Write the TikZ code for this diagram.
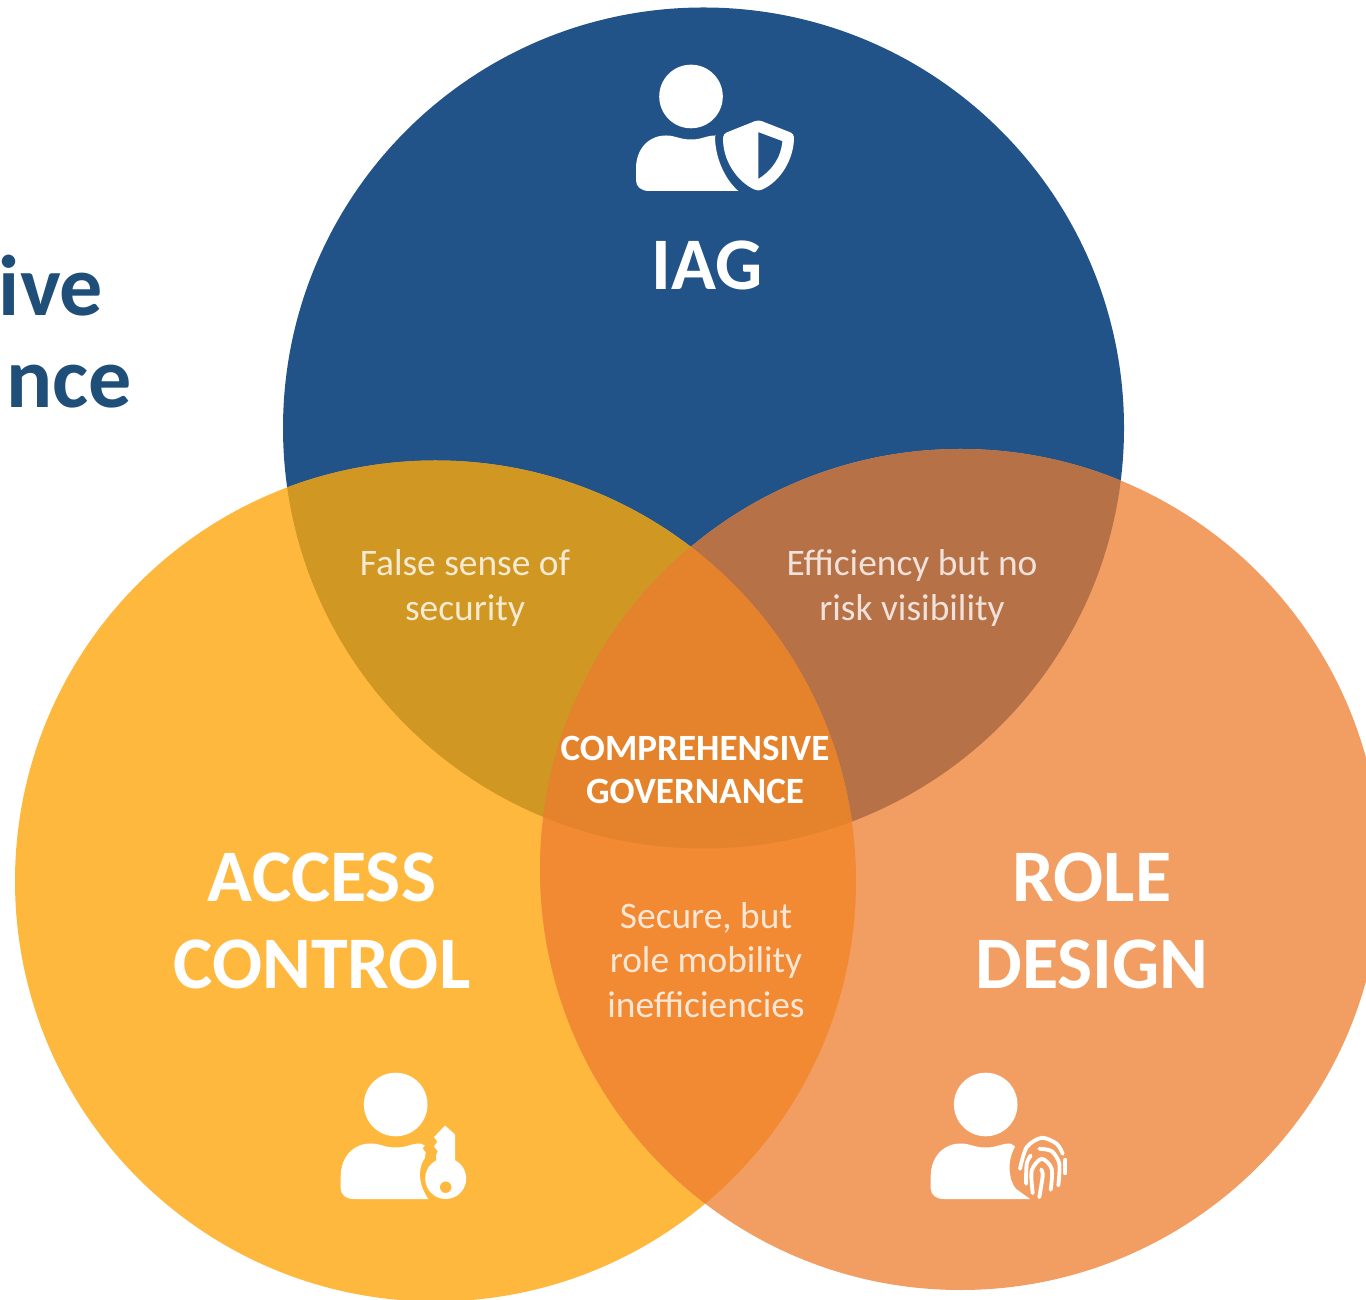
\documentclass[tikz,border=0pt]{standalone}
\usepackage{fontspec}
\setmainfont{Carlito}

\definecolor{iagblue}{HTML}{215388}
\definecolor{accessyellow}{HTML}{FFB83E}
\definecolor{roleorange}{HTML}{F29D62}
\definecolor{iagaccess}{HTML}{D09722}
\definecolor{iagrole}{HTML}{B77147}
\definecolor{accessrole}{HTML}{F28933}
\definecolor{allthree}{HTML}{E5832D}
\definecolor{titleblue}{HTML}{1F4E79}

\tikzset{
    circlelabel/.style={text=white, align=center, font=\fontsize{21.1}{25}\bfseries\selectfont},
    overlaplabel/.style={text=white, text opacity=0.8, align=center, font=\fontsize{10.65}{12.7}\selectfont},
    centrelabel/.style={text=white, align=center, font=\fontsize{10.55}{12.5}\bfseries\selectfont},
    titlepart/.style={text=titleblue, anchor=base east, inner sep=0pt, font=\fontsize{24.5}{26}\bfseries\selectfont},
    printline/.style={white, line width=1.1pt, line cap=round},
}

% body of the person icon, #1 is its right-hand side
\newcommand{\personbody}[1]{
    \fill[white] (0,0) circle (0.318);
    \fill[white] (-0.42,-0.945) .. controls (-0.5,-0.945) and (-0.55,-0.9) .. (-0.55,-0.84)
        -- (-0.55,-0.72) .. controls (-0.55,-0.52) and (-0.42,-0.39) .. (-0.25,-0.39)
        .. controls (-0.15,-0.39) and (-0.12,-0.43) .. (0,-0.43)
        .. controls (0.12,-0.43) and (0.14,-0.39) .. (0.25,-0.39) #1 -- cycle;
}

\begin{document}
\begin{tikzpicture}
    \useasboundingbox (0,0) rectangle (13.66,12.99);
    \coordinate (iagcentre) at (7.035,8.71);
    \coordinate (accesscentre) at (4.355,4.18);
    \coordinate (rolecentre) at (9.605,4.295);
    \def\rad{4.205}

    % The three circles
    \fill[iagblue] (iagcentre) circle (\rad);
    \fill[accessyellow] (accesscentre) circle (\rad);
    \fill[roleorange] (rolecentre) circle (\rad);

    % Overlaps
    \begin{scope}
        \clip (iagcentre) circle (\rad);
        \fill[iagaccess] (accesscentre) circle (\rad);
        \fill[iagrole] (rolecentre) circle (\rad);
    \end{scope}
    \begin{scope}
        \clip (accesscentre) circle (\rad);
        \fill[accessrole] (rolecentre) circle (\rad);
        \clip (rolecentre) circle (\rad);
        \fill[allthree] (iagcentre) circle (\rad);
    \end{scope}

    % Title, cut off by the page
    \node[titlepart] (titleone) at (1.04,9.83) {ive};
    \node[titlepart] (titletwo) at (1.33,8.91) {nce};

    % Labels
    \node[circlelabel] (iag) at (7.07,10.34) {IAG};
    \node[circlelabel] (access) at (3.22,3.78) {ACCESS\\CONTROL};
    \node[circlelabel] (role) at (10.92,3.78) {ROLE\\DESIGN};
    \node[overlaplabel] (falsesense) at (4.65,7.11) {False sense of\\security};
    \node[overlaplabel] (efficiency) at (9.12,7.11) {Efficiency but no\\risk visibility};
    \node[overlaplabel] (secure) at (7.06,3.39) {Secure, but\\role mobility\\inefficiencies};
    \node[centrelabel] (comprehensive) at (6.95,5.29) {COMPREHENSIVE\\GOVERNANCE};

    % Shield icon
    \begin{scope}[shift={(6.91,12.025)}]
        \personbody{-- (0.24,-0.40) .. controls (0.24,-0.6) and (0.33,-0.82) .. (0.473,-0.945)}
        \fill[white, rounded corners=1pt] (0.673,-0.233) -- (1.03,-0.373)
            .. controls (1.03,-0.62) and (0.9,-0.85) .. (0.673,-0.947)
            .. controls (0.45,-0.85) and (0.31,-0.62) .. (0.323,-0.373) -- cycle;
        \fill[iagblue] (0.673,-0.357) -- (0.913,-0.447)
            .. controls (0.9,-0.6) and (0.82,-0.73) .. (0.673,-0.823) -- cycle;
    \end{scope}

    % Key icon
    \begin{scope}[shift={(3.957,1.945)}]
        \personbody{-- (0.29,-0.41) -- (0.27,-0.44) -- (0.30,-0.48) -- (0.29,-0.54)
            .. controls (0.24,-0.6) and (0.2,-0.76) .. (0.326,-0.945)}
        \fill[white] (0.50,-0.74) circle (0.205);
        \fill[white] (0.493,-0.21) -- (0.593,-0.30) -- (0.593,-0.6) -- (0.41,-0.6) -- (0.403,-0.51)
            -- (0.42,-0.467) -- (0.383,-0.42) -- (0.416,-0.37) -- (0.383,-0.327) -- cycle;
        \fill[accessyellow] (0.50,-0.827) circle (0.057);
    \end{scope}

    % Fingerprint icon
    \begin{scope}[shift={(9.857,1.945)}]
        \personbody{-- (0.293,-0.42) .. controls (0.24,-0.52) and (0.23,-0.62) .. (0.243,-0.693)
            .. controls (0.25,-0.76) and (0.28,-0.82) .. (0.303,-0.843) -- (0.443,-0.945)}
        \draw[printline] plot[smooth] coordinates {(0.343,-0.643) (0.41,-0.427) (0.56,-0.333) (0.71,-0.393) (0.77,-0.493)};
        \draw[printline] (0.796,-0.553) -- (0.796,-0.687);
        \draw[printline] plot[smooth] coordinates {(0.403,-0.793) (0.41,-0.593) (0.45,-0.51)};
        \draw[printline] plot[smooth] coordinates {(0.536,-0.443) (0.66,-0.467) (0.736,-0.593) (0.726,-0.81)};
        \draw[printline] plot[smooth] coordinates {(0.47,-0.887) (0.46,-0.66) (0.56,-0.543) (0.66,-0.643) (0.65,-0.853)};
        \draw[printline] plot[smooth] coordinates {(0.536,-0.927) (0.57,-0.71) (0.555,-0.65)};
    \end{scope}
\end{tikzpicture}
\end{document}
